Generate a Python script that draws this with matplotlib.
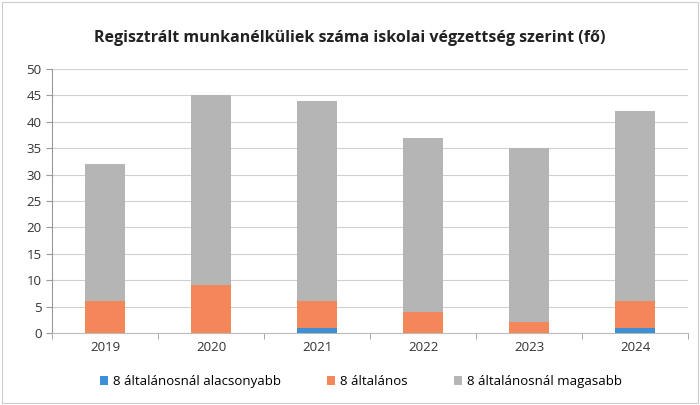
import matplotlib.pyplot as plt
import numpy as np

# chart data
years = ["2019", "2020", "2021", "2022", "2023", "2024"]
alacsonyabb = [0, 0, 1, 0, 0, 1]
altalanos = [6, 9, 5, 4, 2, 5]
magasabb = [26, 36, 38, 33, 33, 36]

labels = ["8 általánosnál alacsonyabb", "8 általános", "8 általánosnál magasabb"]
colors = ["#3d8fd6", "#f4875a", "#b5b5b5"]

plt.rcParams["font.family"] = ["Open Sans", "DejaVu Sans"]

fig = plt.figure(figsize=(7, 4.05), dpi=100)
ax = fig.add_axes([0.0743, 0.1778, 0.9086, 0.6518])

x = np.arange(len(years))
w = 0.38
bottom = np.zeros(len(years))
for vals, lab, col in zip([alacsonyabb, altalanos, magasabb], labels, colors):
    ax.bar(x, vals, w, bottom=bottom, color=col, label=lab, zorder=3)
    bottom += np.array(vals)

ax.set_xlim(-0.5, len(years) - 0.5)
ax.set_ylim(0, 50)
ax.set_yticks(range(0, 51, 5))
ax.set_xticks(x)
ax.set_xticklabels(years)
ax.tick_params(axis="both", labelsize=9.5, colors="#333333")
ax.tick_params(axis="x", length=0, pad=6)
ax.tick_params(axis="y", length=4, color="#999999")
ax.set_xticks(np.arange(-0.5, len(years), 1), minor=True)
ax.tick_params(axis="x", which="minor", length=4, color="#999999")
ax.yaxis.grid(True, color="#d0d0d0", linewidth=0.8, zorder=0)
for s in ["top", "right"]:
    ax.spines[s].set_visible(False)
ax.spines["left"].set_color("#999999")
ax.spines["bottom"].set_color("#bbbbbb")

fig.text(0.5, 0.905, "Regisztrált munkanélküliek száma iskolai végzettség szerint (fő)",
         ha="center", va="center", fontsize=11.5, fontweight="bold", color="#222222")

fig.legend(loc="center", bbox_to_anchor=(0.516, 0.058), ncol=3, frameon=False,
           fontsize=9.5, handlelength=0.6, handleheight=0.6, columnspacing=3.5,
           handletextpad=0.4)

# light border around the chart area
fig.patches.append(plt.Rectangle((0.003, 0.005), 0.994, 0.99, transform=fig.transFigure,
                                 fill=False, edgecolor="#cccccc", linewidth=0.8))

fig.savefig("out.png", dpi=100)
